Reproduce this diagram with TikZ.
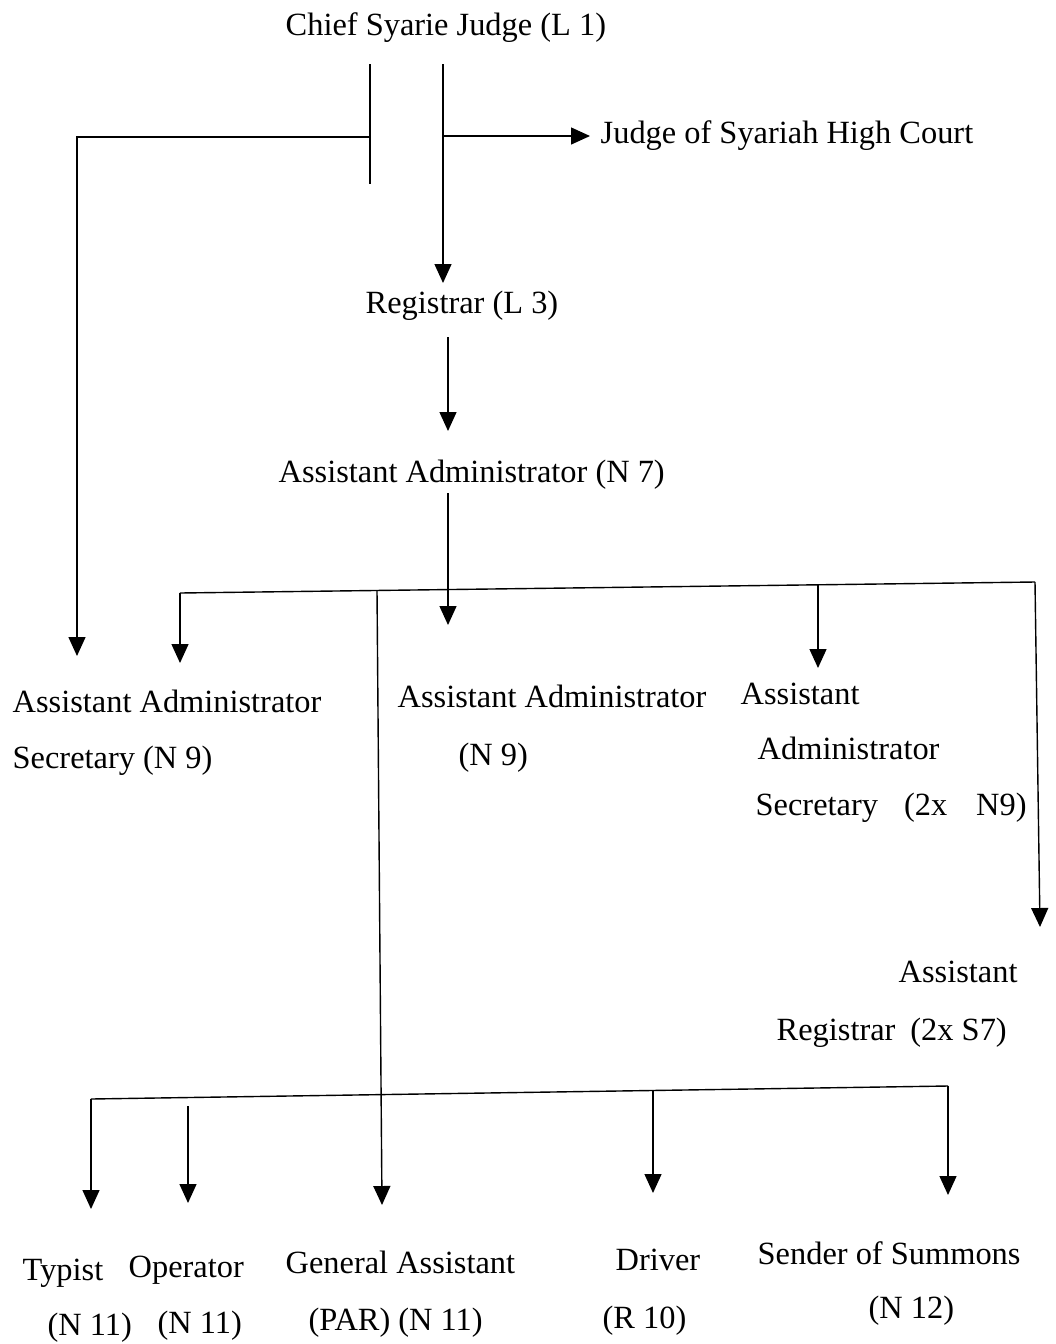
\documentclass[tikz,border=0pt]{standalone}
\usepackage{fontspec}
\setmainfont{Liberation Serif}
\usetikzlibrary{arrows.meta}
\begin{document}
\begin{tikzpicture}[x=0.5pt, y=-0.5pt, line cap=butt, line join=miter, line width=0.7pt, >={Triangle[width=8.5pt,length=9.5pt]}]
	\tikzset{post/.style={font=\fontsize{16.2}{28}\selectfont, inner sep=0pt, anchor=base west}}
	\useasboundingbox (0,0) rectangle (1055,1344);
	\node[post] (chief) at (285,35) {Chief Syarie Judge (L 1)};
	\node[post] (hcj) at (600,143) {Judge of Syariah High Court};
	\node[post] (reg) at (365,313) {Registrar (L 3)};
	\node[post] (aa7) at (278,482) {Assistant Administrator (N 7)};
	\node[post] (aas1) at (12,712) {Assistant Administrator};
	\node[post] (aas2) at (12,768) {Secretary (N 9)};
	\node[post] (aa9a) at (397,707) {Assistant Administrator};
	\node[post] (aa9b) at (458,765) {(N 9)};
	\node[post] (sec1) at (740,704) {Assistant};
	\node[post] (sec2) at (757,759) {Administrator};
	\node[post] (sec3) at (755,815) {Secretary\hspace{13pt}(2x\hspace{14.5pt}N9)};
	\node[post] (ar1) at (898,982) {Assistant};
	\node[post] (ar2) at (776,1040) {Registrar\hspace{7.5pt}(2x S7)};
	\node[post] (typ1) at (22,1280) {Typist};
	\node[post] (typ2) at (47,1335) {(N 11)};
	\node[post] (op1) at (128,1277) {Operator};
	\node[post] (op2) at (157,1333) {(N 11)};
	\node[post] (ga1) at (285,1273) {General Assistant};
	\node[post] (ga2) at (308,1330) {(PAR) (N 11)};
	\node[post] (drv1) at (615,1270) {Driver};
	\node[post] (drv2) at (602,1328) {(R 10)};
	\node[post] (sos1) at (757,1264) {Sender of Summons};
	\node[post] (sos2) at (868,1318) {(N 12)};
	% top
	\draw (370,64) -- (370,184);
	\draw[->] (370,137) -- (77,137) -- (77,656);
	\draw[->] (443,64) -- (443,283);
	\draw[->] (443,136) -- (590,136);
	\draw[->] (448,337) -- (448,431);
	% first bus
	\coordinate (b1w) at (180,593);
	\coordinate (b1e) at (1035,582);
	\draw (b1w) -- (b1e);
	\draw[->] (448,493) -- (448,625);
	\draw[->] (b1w) -- (180,663);
	\draw[->] (818,585) -- (818,668);
	\draw[->] (b1e) -- (1040,927);
	\draw[->] (377,590) -- (382,1205);
	% second bus
	\coordinate (b2w) at (91,1099);
	\coordinate (b2e) at (948,1086);
	\draw (b2w) -- (b2e);
	\draw[->] (b2w) -- (91,1209);
	\draw[->] (188,1106) -- (188,1203);
	\foreach \x/\y/\t in {653/1090/1193, 948/1086/1195}
		\draw[->] (\x,\y) -- (\x,\t);
\end{tikzpicture}
\end{document}
